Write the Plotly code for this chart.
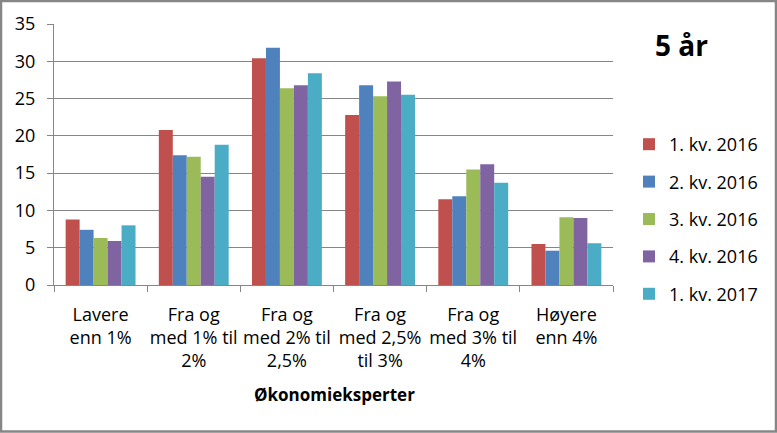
import plotly.graph_objects as go

categories = ["Lavere<br>enn 1%", "Fra og<br>med 1% til<br>2%", "Fra og<br>med 2% til<br>2,5%",
              "Fra og<br>med 2,5%<br>til 3%", "Fra og<br>med 3% til<br>4%", "Høyere<br>enn 4%"]
series_names = ["1. kv. 2016", "2. kv. 2016", "3. kv. 2016", "4. kv. 2016", "1. kv. 2017"]
q1_2016 = [8.8, 20.8, 30.4, 22.8, 11.5, 5.5]
q2_2016 = [7.4, 17.4, 31.8, 26.8, 11.9, 4.6]
q3_2016 = [6.3, 17.2, 26.4, 25.3, 15.5, 9.1]
q4_2016 = [5.9, 14.5, 26.8, 27.3, 16.2, 9.0]
q1_2017 = [8.0, 18.8, 28.4, 25.5, 13.7, 5.6]
colors = ["#C0504D", "#4F81BD", "#9BBB59", "#8064A2", "#4BACC6"]
y_ticks = [0, 5, 10, 15, 20, 25, 30, 35]

FONT = "Open Sans"
W, H = 777, 433
L, R, T, B = 54, 613, 24, 285

fig = go.Figure()
for i, (name, vals) in enumerate(zip(series_names, [q1_2016, q2_2016, q3_2016, q4_2016, q1_2017])):
    fig.add_trace(go.Bar(x=categories, y=vals, name=name, marker_color=colors[i],
                         marker_line_width=0, legendgroup=f"g{i}"))

def px2x(px):
    return (px - L) / (R - L)

def px2y(py):
    return (B - py) / (B - T)

fig.update_layout(
    width=W, height=H,
    margin=dict(l=L, r=W - R, t=T, b=H - B),
    paper_bgcolor="white", plot_bgcolor="white",
    barmode="group", bargap=0.25, bargroupgap=0,
    font=dict(family=FONT, size=18, color="#000"),
    showlegend=True,
    legend=dict(x=px2x(629), y=px2y(126), xanchor="left", yanchor="top",
                traceorder="grouped", tracegroupgap=11,
                font=dict(family=FONT, size=18, color="#000"),
                bgcolor="rgba(0,0,0,0)"),
    xaxis=dict(showline=True, linecolor="#868686", linewidth=1,
               ticks="outside", ticklen=6, tickcolor="#868686", tickson="boundaries",
               tickfont=dict(family=FONT, size=18, color="#000"),
               tickangle=0, ticklabelstandoff=13,
               showgrid=False),
    yaxis=dict(range=[0, 35], tickvals=y_ticks, showline=True, linecolor="#868686", linewidth=1,
               ticks="outside", ticklen=6, tickcolor="#868686",
               gridcolor="#868686", gridwidth=1, zeroline=False,
               tickfont=dict(family=FONT, size=18, color="#000"),
               ticklabelstandoff=8),
    annotations=[
        dict(text="<b>5 år</b>", x=px2x(681), y=px2y(45), xref="paper", yref="paper",
             xanchor="center", yanchor="middle",
             showarrow=False, font=dict(family=FONT, size=28, color="#000")),
        dict(text="<b>Økonomieksperter</b>", x=px2x(334), y=px2y(394), xref="paper", yref="paper",
             xanchor="center", yanchor="middle",
             showarrow=False, font=dict(family=FONT, size=17, color="#000")),
    ],
    shapes=[dict(type="rect", xref="paper", yref="paper",
                 x0=px2x(1), x1=px2x(776), y0=px2y(431.5), y1=px2y(1),
                 line=dict(color="#868686", width=2.5), layer="above")],
)

fig.write_html("out.html")
